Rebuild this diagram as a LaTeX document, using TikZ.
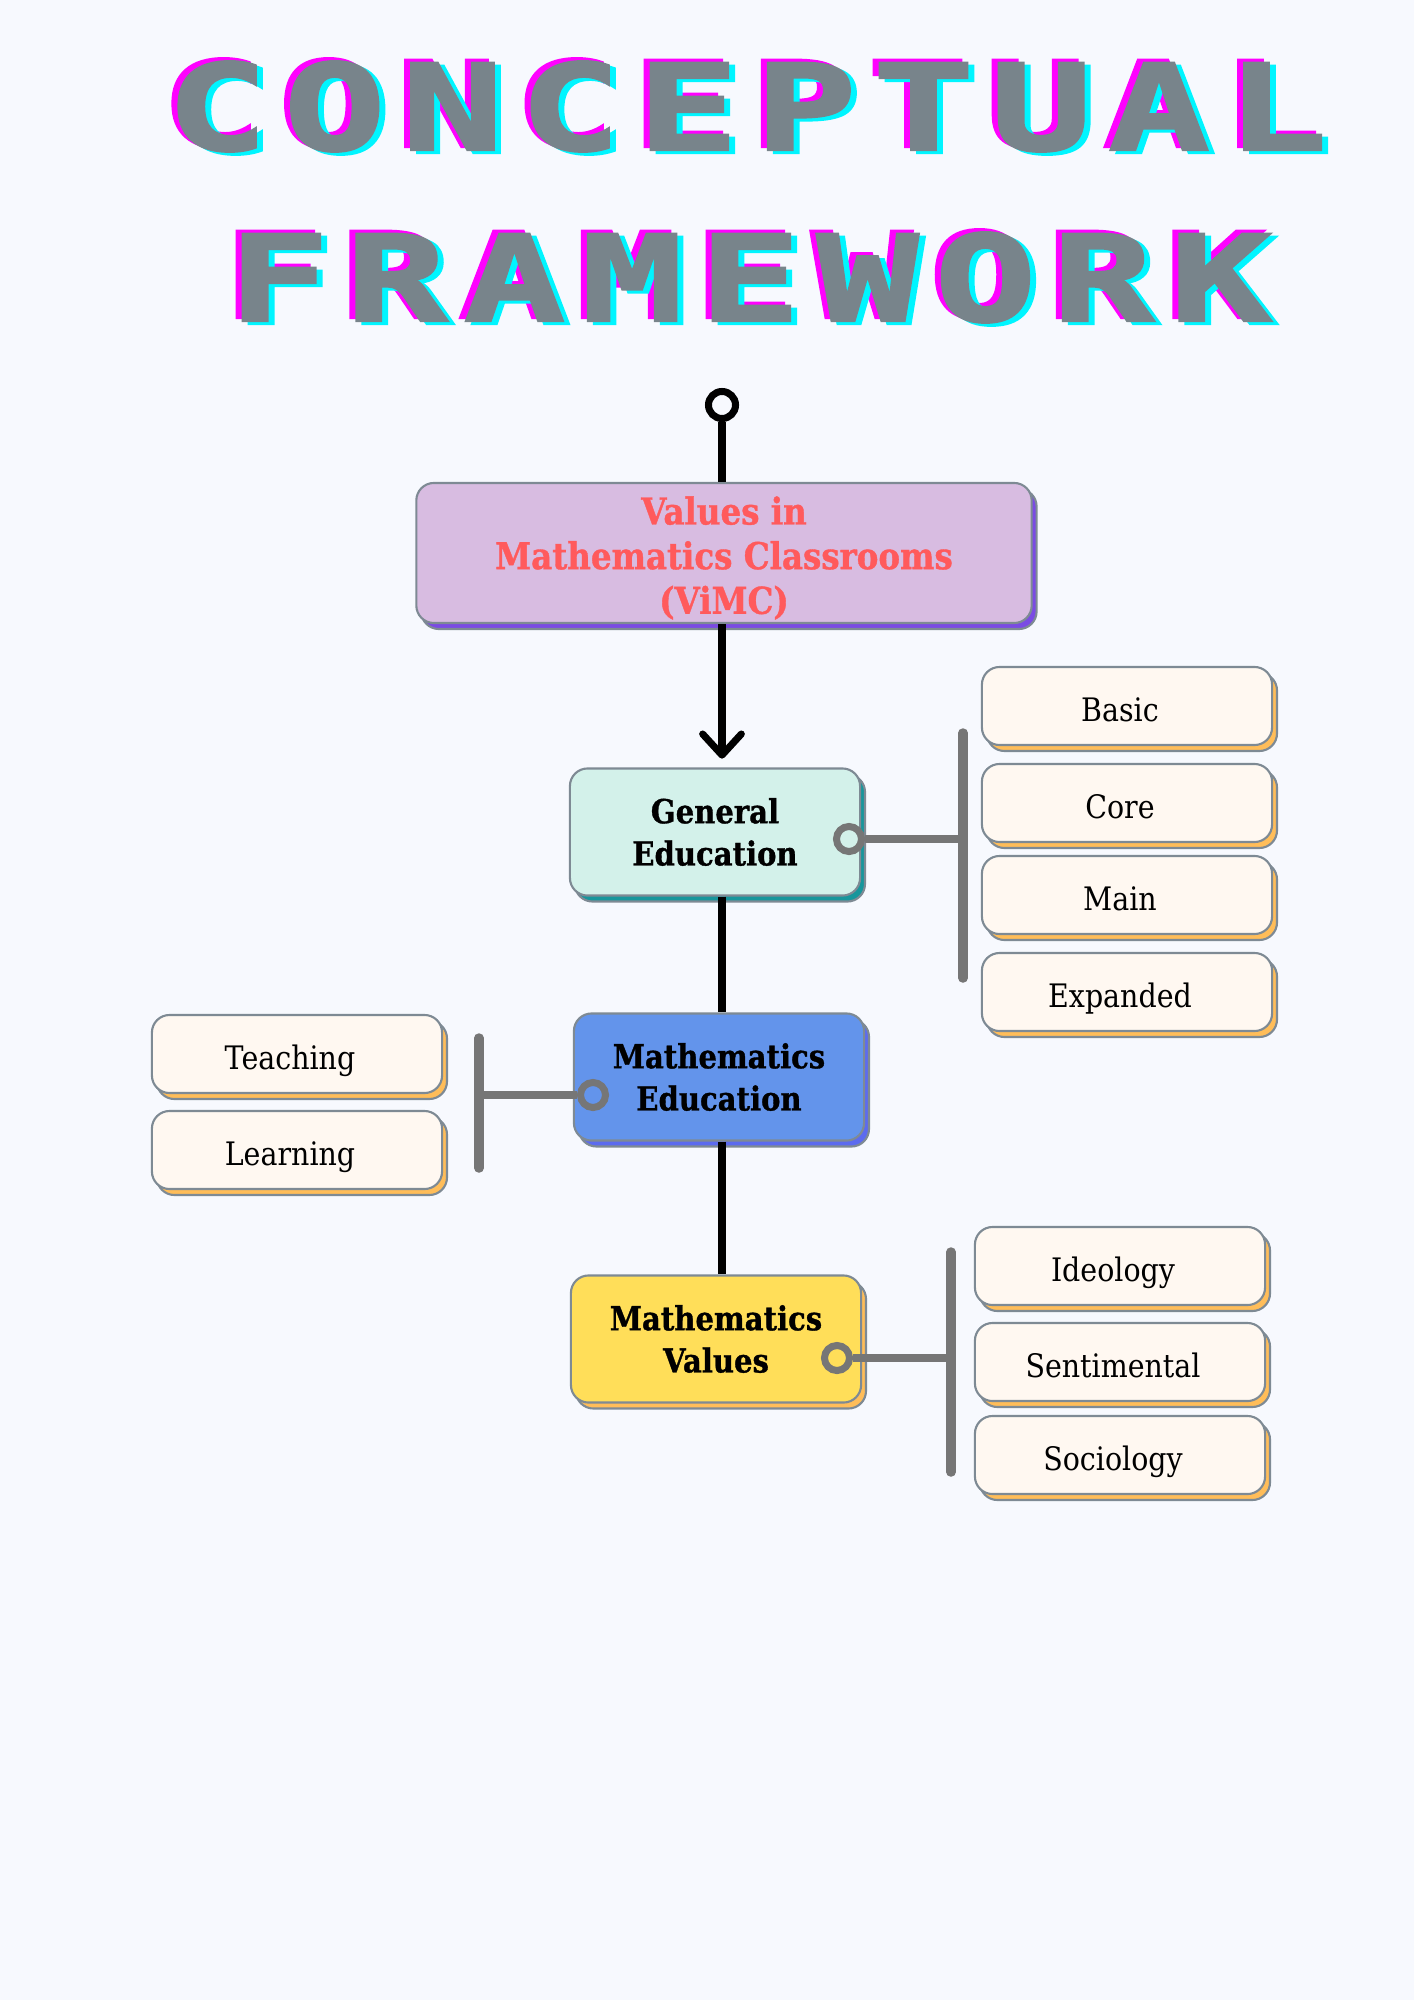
\documentclass[tikz,border=0pt]{standalone}
\usepackage{fontspec}
\usetikzlibrary{arrows.meta,shadows}
\newfontfamily\titlefamily[FakeStretch=1.42, LetterSpace=13, FakeBold=2]{DejaVu Sans Mono}
\newfontfamily\slabfamily[FakeStretch=0.88, BoldFeatures={FakeBold=1}]{DejaVu Serif}
\definecolor{pagebg}{HTML}{F7F9FE}
\definecolor{titlegray}{HTML}{78848B}
\definecolor{titlemag}{HTML}{FF00FF}
\definecolor{titlecyan}{HTML}{00F5FF}
\definecolor{boxline}{HTML}{7E8A94}
\definecolor{vimcfill}{HTML}{D8BCE1}
\definecolor{vimcshade}{HTML}{7A4BE3}
\definecolor{vimctext}{HTML}{FF5A5C}
\definecolor{genfill}{HTML}{D3F1EA}
\definecolor{genshade}{HTML}{17969C}
\definecolor{edufill}{HTML}{6394EB}
\definecolor{edushade}{HTML}{5C6BEF}
\definecolor{valfill}{HTML}{FFDE59}
\definecolor{leaffill}{HTML}{FFF8F1}
\definecolor{leafshade}{HTML}{FFBD59}
\definecolor{linegray}{HTML}{767676}
\newcommand\titlefont{\titlefamily\bfseries\fontsize{34}{40}\selectfont}
\newcommand\vimcfont{\slabfamily\bfseries\fontsize{10.5}{12.7}\selectfont}
\newcommand\topicfont{\slabfamily\bfseries\fontsize{9.4}{12}\selectfont}
\newcommand\leaffont{\slabfamily\fontsize{9.2}{11}\selectfont}
\tikzset{
	titletext/.style={anchor=base, inner sep=0pt, font=\titlefont},
	basebox/.style={draw=boxline, line width=0.6pt, rounded corners=5pt, inner sep=0pt, align=center},
	topicbox/.style={basebox, minimum width=2.9cm, minimum height=1.27cm, font=\topicfont},
	leafbox/.style={basebox, fill=leaffill, minimum width=2.9cm, minimum height=0.78cm, font=\leaffont, text height=8.7pt, text depth=0pt,
		execute at end node=\hspace*{0.14cm},
		copy shadow={shadow xshift=1.4pt, shadow yshift=-1.7pt, fill=leafshade, draw=boxline, line width=0.6pt}},
	boxshade/.style={copy shadow={shadow xshift=1.4pt, shadow yshift=-1.7pt, fill=#1, draw=boxline, line width=0.6pt}},
	spine/.style={draw=black, line width=2pt},
	graydot/.style={draw=linegray, circle, line width=2pt, minimum size=0.25cm, inner sep=0pt},
	grayline/.style={draw=linegray, line width=2pt},
	graybar/.style={draw=linegray, line width=2.7pt, line cap=round},
}
\begin{document}
\begin{tikzpicture}[x=0.01cm, y=-0.01cm]
	\path[use as bounding box, fill=pagebg] (0,0) rectangle (1414,2000);
	\node[titletext, text=titlemag] (title1m)at(741, 147) {CONCEPTUAL};
	\node[titletext, text=titlecyan] (title1c)at(753, 153) {CONCEPTUAL};
	\node[titletext, text=titlegray] (title1)at(747, 150) {CONCEPTUAL};
	\node[titletext, text=titlemag] (title2m)at(744, 318) {FRAMEWORK};
	\node[titletext, text=titlecyan] (title2c)at(756, 324) {FRAMEWORK};
	\node[titletext, text=titlegray] (title2)at(750, 321) {FRAMEWORK};

	\node[draw=black, circle, line width=2pt, fill=pagebg, minimum size=0.27cm, inner sep=0pt] (root)at(722, 405) {};
	\node[basebox, minimum width=6.15cm, minimum height=1.4cm, fill=vimcfill, text=vimctext, font=\vimcfont, boxshade=vimcshade] (vimc)at(724, 553) {\rule{0pt}{10.8pt}Values in\\Mathematics Classrooms\\(ViMC)};
	\node[topicbox, fill=genfill, boxshade=genshade] (gen)at(715, 832) {General\\Education};
	\node[topicbox, fill=edufill, boxshade=edushade] (edu)at(719, 1077) {Mathematics\\Education};
	\node[topicbox, fill=valfill, boxshade=leafshade] (val)at(716, 1339) {Mathematics\\Values};

	\node[leafbox] (basic)at(1127, 706) {Basic};
	\node[leafbox] (core)at(1127, 803) {Core};
	\node[leafbox] (main)at(1127, 895) {Main};
	\node[leafbox] (expanded)at(1127, 992) {Expanded};
	\node[leafbox] (teaching)at(297, 1054) {Teaching};
	\node[leafbox] (learning)at(297, 1150) {Learning};
	\node[leafbox] (ideology)at(1120, 1266) {Ideology};
	\node[leafbox] (sentimental)at(1120, 1362) {Sentimental};
	\node[leafbox] (sociology)at(1120, 1455) {Sociology};

	\draw[spine] (root) -- (root |- vimc.north);
	\draw[spine, -{Straight Barb[length=6pt, width=11pt, round]}, shorten >=2.5pt] (root |- vimc.south) -- (root |- gen.north);
	\draw[spine] (root |- gen.south) -- (root |- edu.north);
	\draw[spine] (root |- edu.south) -- (root |- val.north);

	\node[graydot] (gendot)at(849, 839) {};
	\coordinate (genbartop)at(963, 733);
	\coordinate (genbarbot)at(963, 978);
	\draw[graybar] (genbartop) -- (genbarbot);
	\draw[grayline] (gendot) -- (gendot -| genbartop);

	\node[graydot] (edudot)at(593, 1095) {};
	\coordinate (edubartop)at(479, 1038);
	\coordinate (edubarbot)at(479, 1168);
	\draw[graybar] (edubartop) -- (edubarbot);
	\draw[grayline] (edudot) -- (edudot -| edubartop);

	\node[graydot] (valdot)at(837, 1358) {};
	\coordinate (valbartop)at(951, 1252);
	\coordinate (valbarbot)at(951, 1472);
	\draw[graybar] (valbartop) -- (valbarbot);
	\draw[grayline] (valdot) -- (valdot -| valbartop);
\end{tikzpicture}
\end{document}
